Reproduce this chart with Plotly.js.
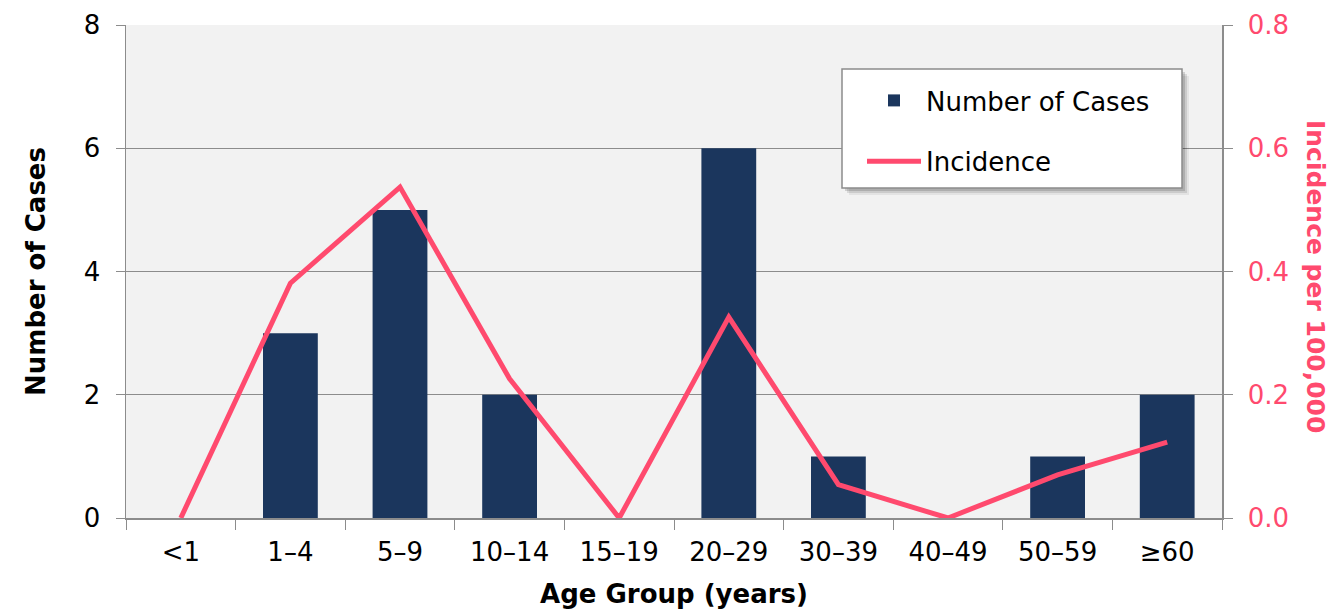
<!DOCTYPE html>
<html>
<head>
<meta charset="utf-8">
<script src="https://cdn.plot.ly/plotly-3.0.1.min.js"></script>
<style>html,body{margin:0;padding:0;background:#fff;}#chart{width:1332px;height:609px;}</style>
</head>
<body>
<div id="chart"></div>
<script>
const categories = ["<1", "1–4", "5–9", "10–14", "15–19", "20–29", "30–39", "40–49", "50–59", "≥60"];
const cases = [0, 3, 5, 2, 0, 6, 1, 0, 1, 2];
const incidence = [0, 0.381, 0.537, 0.226, 0, 0.326, 0.054, 0, 0.070, 0.123];

const FONT = "DejaVu Sans, Verdana, sans-serif";
const PINK = "#ff4a6e";
const NAVY = "#1b365d";
const GRAY = "#8c8c8c";

// plot area in pixels: x 126..1222, y 25..518
const L = 126, R = 1222, T = 25, B = 518;
const px = v => (v - L) / (R - L);
const py = v => (B - v) / (B - T);

const data = [
  {type: "bar", x: categories, y: cases, name: "Number of Cases", legendgroup: "a",
   marker: {color: NAVY}, width: 0.5, yaxis: "y"},
  {type: "scatter", mode: "lines", x: categories, y: incidence, name: "Incidence", legendgroup: "b",
   line: {color: PINK, width: 5}, yaxis: "y2"}
];

const shadows = [];
[[7, 0.06], [5, 0.10], [3, 0.14]].forEach(([o, a]) => {
  shadows.push({type: "rect", xref: "paper", yref: "paper", layer: "above",
    x0: px(842 + o), x1: px(1182 + o), y0: py(188 + o), y1: py(69 + o),
    fillcolor: "rgba(0,0,0," + a + ")", line: {width: 0}});
});
shadows.push({type: "rect", xref: "paper", yref: "paper", layer: "above",
  x0: px(842), x1: px(1182), y0: py(188), y1: py(69),
  fillcolor: "#ffffff", line: {color: GRAY, width: 1.5}});

const layout = {
  width: 1332, height: 609,
  margin: {l: L, r: 1332 - R, t: T, b: 609 - B},
  paper_bgcolor: "#ffffff",
  plot_bgcolor: "#f2f2f2",
  font: {family: FONT, size: 26, color: "#000"},
  showlegend: true,
  legend: {x: px(862), y: py(77), xanchor: "left", yanchor: "top",
    bgcolor: "rgba(0,0,0,0)", borderwidth: 0, traceorder: "grouped",
    font: {family: FONT, size: 26, color: "#000"}, itemwidth: 54,
    tracegroupgap: 24},
  xaxis: {type: "category", tickson: "boundaries", ticks: "outside", ticklen: 10,
    tickcolor: GRAY, showline: true, linecolor: GRAY, linewidth: 1.5,
    showgrid: false, tickfont: {size: 26}, ticklabelstandoff: 10,
    title: {text: "<b>Age Group (years)</b>", font: {size: 26}, standoff: 20}},
  yaxis: {range: [0, 8], dtick: 2, ticks: "outside", ticklen: 9, tickcolor: GRAY,
    showline: true, linecolor: GRAY, linewidth: 1.5, gridcolor: GRAY, gridwidth: 1,
    zeroline: false, tickfont: {size: 26}, ticklabelstandoff: 10,
    title: {text: "<b>Number of Cases</b>", font: {size: 26}, standoff: 30}},
  yaxis2: {range: [0, 0.8], dtick: 0.2, tickformat: ".1f", overlaying: "y", side: "right",
    ticks: "outside", ticklen: 9, tickcolor: GRAY, showline: true, linecolor: GRAY,
    linewidth: 1.5, showgrid: false, zeroline: false, ticklabelstandoff: 10,
    tickfont: {size: 26, color: PINK}},
  shapes: shadows,
  annotations: [
    {text: "<b>Incidence per 100,000</b>", xref: "paper", yref: "paper",
     x: px(1316), y: py(276), xanchor: "center", yanchor: "middle", textangle: 90, showarrow: false,
     font: {family: FONT, size: 25, color: PINK}}
  ]
};

Plotly.newPlot("chart", data, layout, {displayModeBar: false, staticPlot: true});
</script>
</body>
</html>
